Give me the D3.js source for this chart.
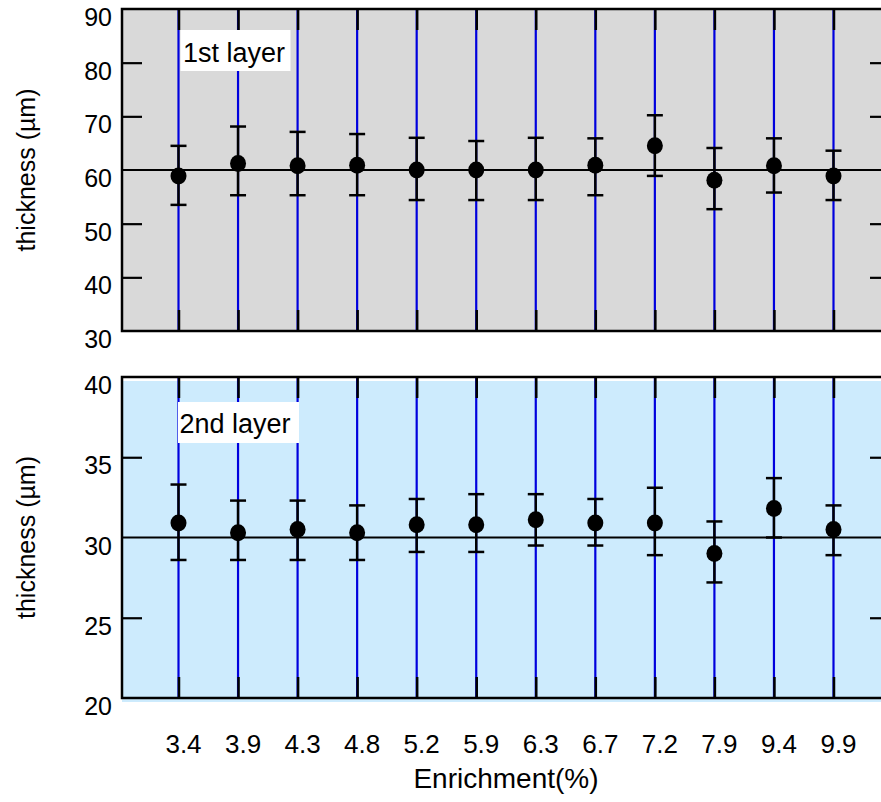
<!DOCTYPE html>
<html>
<head>
<meta charset="utf-8">
<script src="https://cdn.jsdelivr.net/npm/d3@7"></script>
<style>
  html, body { margin: 0; padding: 0; background: #fff; }
  svg { display: block; font-family: "Liberation Sans", Arial, sans-serif; }
</style>
</head>
<body>
<svg id="chart" width="881" height="802"></svg>
<script>
// ---- data ----
const categories = ["3.4","3.9","4.3","4.8","5.2","5.9","6.3","6.7","7.2","7.9","9.4","9.9"];

const layer1Mean  = [58.9, 61.2, 60.8, 60.9, 60.0, 60.0, 60.0, 60.9, 64.5, 58.1, 60.8, 58.9];
const layer1Upper = [64.5, 68.1, 67.1, 66.7, 66.0, 65.4, 66.0, 65.9, 70.2, 64.1, 65.9, 63.6];
const layer1Lower = [53.5, 55.3, 55.3, 55.3, 54.4, 54.4, 54.4, 55.3, 58.9, 52.7, 55.8, 54.4];

const layer2Mean  = [30.9, 30.3, 30.5, 30.3, 30.8, 30.8, 31.1, 30.9, 30.9, 29.0, 31.8, 30.5];
const layer2Upper = [33.3, 32.3, 32.3, 32.0, 32.4, 32.7, 32.7, 32.4, 33.1, 31.0, 33.7, 32.0];
const layer2Lower = [28.6, 28.6, 28.6, 28.6, 29.1, 29.1, 29.5, 29.5, 28.9, 27.2, 30.0, 28.9];

const layer1Ticks = [30, 40, 50, 60, 70, 80, 90];
const layer2Ticks = [20, 25, 30, 35, 40];
const layer1Ref = 60;
const layer2Ref = 30;
const layer1Label = "1st layer";
const layer2Label = "2nd layer";
const yTitle = "thickness (\u00b5m)";
const xTitle = "Enrichment(%)";

// ---- layout ----
const svg = d3.select("#chart");
const left = 122, right = 890;
const x = d3.scalePoint().domain(categories).range([178.5, 833.5]);

const panels = [
  { mean: layer1Mean, upper: layer1Upper, lower: layer1Lower, ticks: layer1Ticks, ref: layer1Ref,
    label: layer1Label, top: 9, bottom: 331, bg: "#d9d9d9", bgShift: 0,
    box: { x: 180.5, y: 30, w: 110, h: 41, tx: 183, ty: 62 } },
  { mean: layer2Mean, upper: layer2Upper, lower: layer2Lower, ticks: layer2Ticks, ref: layer2Ref,
    label: layer2Label, top: 377, bottom: 698, bg: "#cdebfd", bgShift: 4,
    box: { x: 178, y: 402, w: 121, h: 41, tx: 179.5, ty: 433 } }
];

panels.forEach(p => {
  const ext = d3.extent(p.ticks);
  const y = d3.scaleLinear().domain(ext).range([p.bottom, p.top]);
  const g = svg.append("g");

  // background
  g.append("rect")
    .attr("x", left).attr("y", p.top + p.bgShift)
    .attr("width", right - left).attr("height", p.bottom - p.top)
    .attr("fill", p.bg);

  // blue vertical category lines
  g.selectAll("line.cat").data(categories).join("line")
    .attr("x1", d => x(d)).attr("x2", d => x(d))
    .attr("y1", p.top).attr("y2", p.bottom)
    .attr("stroke", "#0000dd").attr("stroke-width", 2.2);

  // reference line
  g.append("line")
    .attr("x1", left).attr("x2", right)
    .attr("y1", y(p.ref)).attr("y2", y(p.ref))
    .attr("stroke", "#000").attr("stroke-width", 2.2);

  // x ticks (inward, top and bottom)
  const xAxisB = d3.axisBottom(x).tickSize(-21).tickFormat("").tickSizeOuter(0);
  const xAxisT = d3.axisTop(x).tickSize(-21).tickFormat("").tickSizeOuter(0);
  const gb = g.append("g").attr("transform", `translate(0,${p.bottom})`).call(xAxisB);
  const gt = g.append("g").attr("transform", `translate(0,${p.top})`).call(xAxisT);
  [gb, gt].forEach(a => {
    a.select(".domain").remove();
    a.selectAll(".tick line").attr("stroke", "#000").attr("stroke-width", 2.5);
  });

  // y ticks (inward, left and right)
  const inner = p.ticks.filter(t => t !== ext[0] && t !== ext[1] && t !== p.ref);
  const yAxisL = d3.axisLeft(y).tickValues(inner).tickSize(-20).tickFormat("");
  const yAxisR = d3.axisRight(y).tickValues(inner).tickSize(-20).tickFormat("");
  const gl = g.append("g").attr("transform", `translate(${left},0)`).call(yAxisL);
  const gr = g.append("g").attr("transform", `translate(${right},0)`).call(yAxisR);
  [gl, gr].forEach(a => {
    a.select(".domain").remove();
    a.selectAll(".tick line").attr("stroke", "#000").attr("stroke-width", 2.2);
  });

  // y tick labels
  g.selectAll("text.ylab").data(p.ticks).join("text")
    .attr("x", 112).attr("y", d => y(d) + 8)
    .attr("dy", "0.36em")
    .attr("text-anchor", "end")
    .attr("font-size", 25).attr("fill", "#000")
    .text(d => d);

  // frame
  g.append("path")
    .attr("d", `M${right},${p.top}H${left}V${p.bottom}H${right}V${p.top}`)
    .attr("fill", "none").attr("stroke", "#000").attr("stroke-width", 2.5);

  // error bars
  const idx = d3.range(categories.length);
  g.selectAll("line.err").data(idx).join("line")
    .attr("x1", i => x(categories[i])).attr("x2", i => x(categories[i]))
    .attr("y1", i => y(p.upper[i])).attr("y2", i => y(p.lower[i]))
    .attr("stroke", "#000").attr("stroke-width", 2.5);
  ["upper", "lower"].forEach(k => {
    g.selectAll("line.cap" + k).data(idx).join("line")
      .attr("x1", i => x(categories[i]) - 8).attr("x2", i => x(categories[i]) + 8)
      .attr("y1", i => y(p[k][i])).attr("y2", i => y(p[k][i]))
      .attr("stroke", "#000").attr("stroke-width", 2.5);
  });

  // markers
  g.selectAll("ellipse.pt").data(idx).join("ellipse")
    .attr("cx", i => x(categories[i])).attr("cy", i => y(p.mean[i]))
    .attr("rx", 8).attr("ry", 8.5)
    .attr("fill", "#000");

  // label box
  g.append("rect")
    .attr("x", p.box.x).attr("y", p.box.y)
    .attr("width", p.box.w).attr("height", p.box.h)
    .attr("fill", "#fff");
  g.append("text")
    .attr("x", p.box.tx).attr("y", p.box.ty)
    .attr("font-size", 27).attr("fill", "#000")
    .text(p.label);

  // y title
  g.append("text")
    .attr("transform", `translate(35,${(p.top + p.bottom) / 2}) rotate(-90)`)
    .attr("text-anchor", "middle")
    .attr("font-size", 25).attr("fill", "#000")
    .text(yTitle);
});

// x tick labels
svg.selectAll("text.xlab").data(categories).join("text")
  .attr("x", d => x(d) + 5).attr("y", 753)
  .attr("text-anchor", "middle")
  .attr("font-size", 26).attr("fill", "#000")
  .text(d => d);

// x title
svg.append("text")
  .attr("x", 506).attr("y", 788)
  .attr("text-anchor", "middle")
  .attr("font-size", 28).attr("fill", "#000")
  .text(xTitle);
</script>
</body>
</html>
